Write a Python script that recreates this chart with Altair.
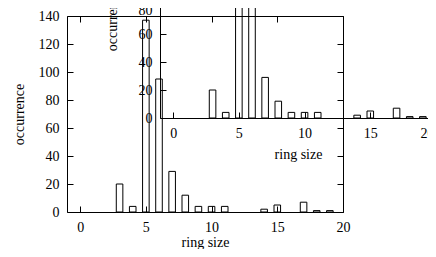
import altair as alt
import pandas as pd

# ---- data ----
ring_size = [3, 4, 5, 6, 7, 8, 9, 10, 11, 14, 15, 17, 18, 19]
occurrence = [20, 4, 137, 95, 29, 12, 4, 4, 4, 2, 5, 7, 1, 1]
x_ticks = [0, 5, 10, 15, 20]
y_ticks = [0, 20, 40, 60, 80, 100, 120, 140]
x_domain = [-1, 20]
y_domain = [0, 140]

W, H = 276, 196          # plot area of one panel
DX, DY = 93, 94          # displacement of the inset copy
FONT = "Liberation Serif, Times New Roman, DejaVu Serif, serif"

df = pd.DataFrame({"ring_size": ring_size, "occurrence": occurrence})
base = alt.Chart(df).transform_calculate(
    lo="datum.ring_size - 0.25", hi="datum.ring_size + 0.25"
)


def xs(dx):
    return alt.Scale(domain=x_domain, range=[dx, W + dx], nice=False, zero=False)


def ys(dy):
    return alt.Scale(domain=y_domain, range=[H - dy, -dy], nice=False, zero=False)


def label_axes(dx, dy):
    inset = dx != 0
    x_kw = {}
    y_kw = {}
    if inset:
        # nudge edge labels so that they stay inside the picture
        x_kw["labelOffset"] = {"condition": {"test": "datum.value == 20", "value": -9}, "value": 0}
        y_kw["labelOffset"] = {"condition": {"test": "datum.value == 80", "value": 4}, "value": 0}
    ax = alt.Axis(orient="bottom", offset=-dy, values=x_ticks, ticks=False,
                  domain=inset, labelFlush=False, title="ring size",
                  labelPadding=8, titlePadding=7 if inset else 1, grid=False, **x_kw)
    ay = alt.Axis(orient="left", offset=-dx, values=y_ticks, ticks=False,
                  domain=inset, title="occurrence", labelPadding=8,
                  titlePadding=12, grid=False, **y_kw)
    return ax, ay


def inner_tick_axes(dx, dy):
    # ticks pointing into the plot from bottom and left edges
    ax = alt.Axis(orient="top", offset=-(H - dy), values=x_ticks, tickSize=6,
                  labels=False, domain=False, title="", grid=False)
    ay = alt.Axis(orient="right", offset=-(W - dx), values=y_ticks, tickSize=6,
                  labels=False, domain=False, title="", grid=False)
    return ax, ay


def mirror_tick_axes(dx, dy):
    # ticks pointing into the plot from top and right edges
    ax = alt.Axis(orient="bottom", offset=-(H + dy), values=x_ticks, tickSize=6,
                  labels=False, domain=dx != 0, title="", grid=False)
    ay = alt.Axis(orient="left", offset=-(W + dx), values=y_ticks, tickSize=6,
                  labels=False, domain=dx != 0, title="", grid=False)
    return ax, ay


def panel(dx, dy):
    lx, ly = label_axes(dx, dy)
    bars = base.mark_bar(fillOpacity=0, stroke="black", strokeWidth=1).encode(
        x=alt.X("lo:Q", scale=xs(dx), axis=lx),
        x2="hi:Q",
        y=alt.Y("occurrence:Q", scale=ys(dy), axis=ly),
        y2=alt.datum(0),
    )
    ix, iy = inner_tick_axes(dx, dy)
    inner = base.mark_point(opacity=0).encode(
        x=alt.X("ring_size:Q", scale=xs(dx), axis=ix),
        y=alt.Y("occurrence:Q", scale=ys(dy), axis=iy),
    )
    mx, my = mirror_tick_axes(dx, dy)
    mirror = base.mark_point(opacity=0).encode(
        x=alt.X("ring_size:Q", scale=xs(dx), axis=mx),
        y=alt.Y("occurrence:Q", scale=ys(dy), axis=my),
    )
    return [bars, inner, mirror]


chart = (
    alt.layer(*panel(0, 0), *panel(DX, DY))
    .resolve_scale(x="independent", y="independent")
    .resolve_axis(x="independent", y="independent")
    .properties(
        width=W,
        height=H,
        autosize=alt.AutoSizeParams(type="none"),
        padding={"left": 59, "top": 8, "right": 85, "bottom": 37},
        background="white",
    )
    .configure(font="Liberation Serif")
    .configure_view(stroke="black", strokeWidth=1)
    .configure_axis(
        labelFont=FONT, titleFont=FONT, labelFontSize=14, titleFontSize=14,
        titleFontWeight="normal", labelColor="black", titleColor="black",
        domainColor="black", tickColor="black", domainWidth=1, tickWidth=1,
        grid=False,
    )
)

chart.save("out.html", embed_options={"renderer": "svg", "actions": False})
